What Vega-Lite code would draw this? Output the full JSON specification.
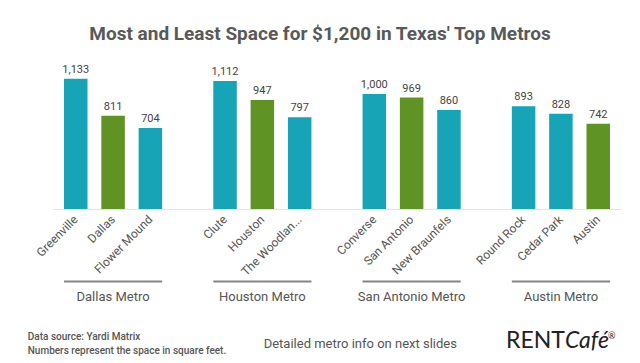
{
  "$schema": "https://vega.github.io/schema/vega-lite/v6.json",
  "width": 568,
  "height": 138,
  "autosize": {"type": "none"},
  "padding": {"left": 53, "top": 71, "right": 19, "bottom": 154},
  "background": "white",
  "title": {
    "text": "Most and Least Space for $1,200 in Texas' Top Metros",
    "font": "Roboto",
    "fontSize": 19,
    "fontWeight": "bold",
    "color": "#595959",
    "anchor": "middle",
    "dx": -17,
    "offset": 20
  },
  "config": {
    "view": {"stroke": null},
    "axisX": {
      "labelFont": "Roboto",
      "labelFontSize": 12,
      "labelColor": "#555555",
      "labelPadding": 8,
      "ticks": false,
      "domainColor": "#e3e3e3",
      "domainWidth": 1,
      "grid": false,
      "labelLimit": 200
    }
  },
  "datasets": {
    "bars": [
      {"city": "Greenville", "metro": "Dallas Metro", "value": 1133, "kind": "other"},
      {"city": "Dallas", "metro": "Dallas Metro", "value": 811, "kind": "core"},
      {"city": "Flower Mound", "metro": "Dallas Metro", "value": 704, "kind": "other"},
      {"city": "Clute", "metro": "Houston Metro", "value": 1112, "kind": "other"},
      {"city": "Houston", "metro": "Houston Metro", "value": 947, "kind": "core"},
      {"city": "The Woodlands", "metro": "Houston Metro", "value": 797, "kind": "other"},
      {"city": "Converse", "metro": "San Antonio Metro", "value": 1000, "kind": "other"},
      {"city": "San Antonio", "metro": "San Antonio Metro", "value": 969, "kind": "core"},
      {"city": "New Braunfels", "metro": "San Antonio Metro", "value": 860, "kind": "other"},
      {"city": "Round Rock", "metro": "Austin Metro", "value": 893, "kind": "other"},
      {"city": "Cedar Park", "metro": "Austin Metro", "value": 828, "kind": "other"},
      {"city": "Austin", "metro": "Austin Metro", "value": 742, "kind": "core"}
    ],
    "metros": [
      {"metro": "Dallas Metro", "first": "Greenville", "mid": "Dallas", "last": "Flower Mound"},
      {"metro": "Houston Metro", "first": "Clute", "mid": "Houston", "last": "The Woodlands"},
      {"metro": "San Antonio Metro", "first": "Converse", "mid": "San Antonio", "last": "New Braunfels"},
      {"metro": "Austin Metro", "first": "Round Rock", "mid": "Cedar Park", "last": "Austin"}
    ]
  },
  "layer": [
    {
      "data": {"name": "bars"},
      "mark": {"type": "bar"},
      "encoding": {
        "x": {
          "field": "city",
          "type": "nominal",
          "title": null,
          "sort": null,
          "scale": {
            "domain": ["Greenville", "Dallas", "Flower Mound", " ", "Clute", "Houston", "The Woodlands", "  ", "Converse", "San Antonio", "New Braunfels", "   ", "Round Rock", "Cedar Park", "Austin"],
            "paddingInner": 0.37,
            "paddingOuter": 0.295
          },
          "axis": {
            "labelAngle": -45,
            "labelAlign": "right",
            "labelBaseline": "middle",
            "labelExpr": "datum.label == 'The Woodlands' ? 'The Woodlan...' : datum.label"
          }
        },
        "y": {
          "field": "value",
          "type": "quantitative",
          "scale": {"domain": [0, 1200], "nice": false, "zero": true},
          "axis": null
        },
        "color": {
          "field": "kind",
          "type": "nominal",
          "scale": {"domain": ["other", "core"], "range": ["#18a4b7", "#5f9424"]},
          "legend": null
        }
      }
    },
    {
      "data": {"name": "bars"},
      "mark": {"type": "text", "baseline": "bottom", "dy": -4, "font": "Roboto", "fontSize": 11, "color": "#444444"},
      "encoding": {
        "x": {"field": "city", "type": "nominal", "title": null},
        "y": {"field": "value", "type": "quantitative", "axis": null},
        "text": {"field": "value", "type": "quantitative", "format": ","}
      }
    },
    {
      "data": {"name": "metros"},
      "mark": {"type": "rule", "color": "#858585", "strokeWidth": 2},
      "encoding": {
        "x": {"field": "first", "type": "nominal", "bandPosition": 0, "title": null},
        "x2": {"field": "last", "bandPosition": 1},
        "y": {"datum": -630, "type": "quantitative", "axis": null}
      }
    },
    {
      "data": {"name": "metros"},
      "mark": {"type": "text", "baseline": "middle", "align": "center", "font": "Roboto", "fontSize": 13, "color": "#555555"},
      "encoding": {
        "x": {"field": "mid", "type": "nominal", "title": null},
        "y": {"datum": -761, "type": "quantitative", "axis": null},
        "text": {"field": "metro", "type": "nominal"}
      }
    },
    {
      "data": {"values": [{"note": "Data source: Yardi Matrix"}]},
      "mark": {"type": "text", "align": "left", "baseline": "middle", "dx": -48, "font": "Roboto", "fontSize": 10, "fontWeight": 500, "color": "#555555"},
      "encoding": {
        "x": {"datum": "Greenville", "type": "nominal", "title": null},
        "y": {"datum": -1110, "type": "quantitative", "axis": null},
        "text": {"field": "note", "type": "nominal"}
      }
    },
    {
      "data": {"values": [{"note": "Numbers represent the space in square feet."}]},
      "mark": {"type": "text", "align": "left", "baseline": "middle", "dx": -48, "font": "Roboto", "fontSize": 10, "fontWeight": 500, "color": "#555555"},
      "encoding": {
        "x": {"datum": "Greenville", "type": "nominal", "title": null},
        "y": {"datum": -1235, "type": "quantitative", "axis": null},
        "text": {"field": "note", "type": "nominal"}
      }
    },
    {
      "data": {"values": [{"note": "Detailed metro info on next slides"}]},
      "mark": {"type": "text", "align": "center", "baseline": "middle", "dx": -14, "font": "Roboto", "fontSize": 13, "color": "#555555"},
      "encoding": {
        "x": {"datum": "Converse", "type": "nominal", "title": null},
        "y": {"datum": -1172, "type": "quantitative", "axis": null},
        "text": {"field": "note", "type": "nominal"}
      }
    },
    {
      "data": {"values": [{"note": "RENT"}]},
      "mark": {"type": "text", "align": "right", "baseline": "middle", "dx": 4, "font": "Lato", "fontSize": 23, "color": "#222222"},
      "encoding": {
        "x": {"datum": "Cedar Park", "type": "nominal", "title": null},
        "y": {"datum": -1150, "type": "quantitative", "axis": null},
        "text": {"field": "note", "type": "nominal"}
      }
    },
    {
      "data": {"values": [{"note": "Café"}]},
      "mark": {"type": "text", "align": "left", "baseline": "middle", "dx": 4, "font": "Lato", "fontSize": 23, "fontStyle": "italic", "color": "#222222"},
      "encoding": {
        "x": {"datum": "Cedar Park", "type": "nominal", "title": null},
        "y": {"datum": -1150, "type": "quantitative", "axis": null},
        "text": {"field": "note", "type": "nominal"}
      }
    },
    {
      "data": {"values": [{"note": "®"}]},
      "mark": {"type": "text", "align": "left", "baseline": "middle", "dx": 47, "font": "Lato", "fontSize": 9, "color": "#222222"},
      "encoding": {
        "x": {"datum": "Cedar Park", "type": "nominal", "title": null},
        "y": {"datum": -1105, "type": "quantitative", "axis": null},
        "text": {"field": "note", "type": "nominal"}
      }
    }
  ]
}
